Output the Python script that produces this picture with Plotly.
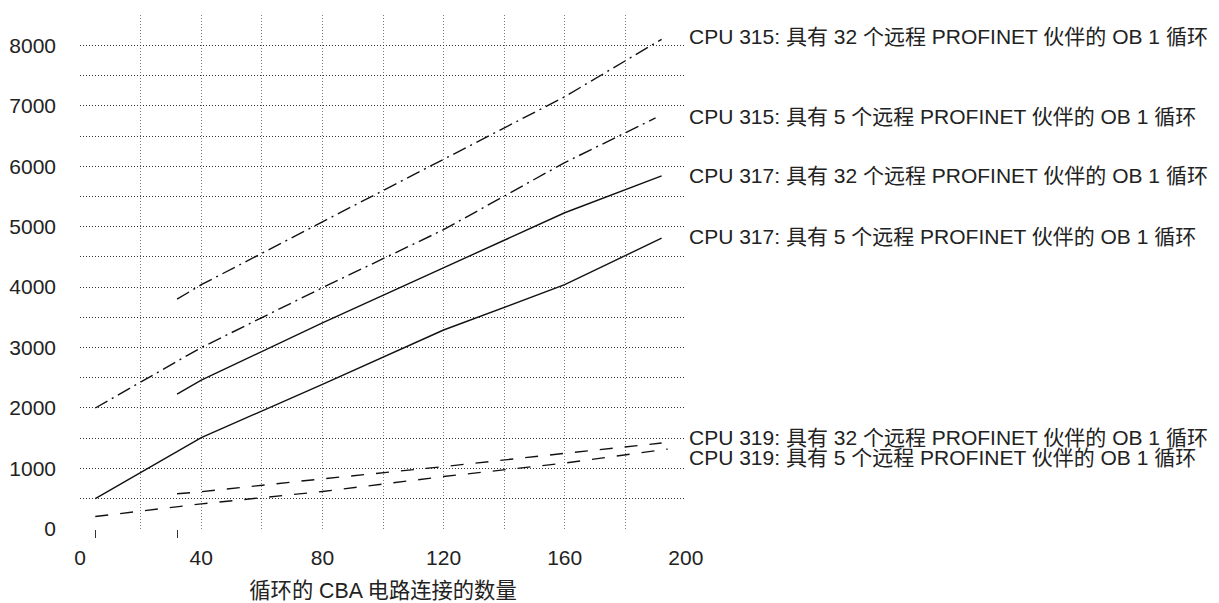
import plotly.graph_objects as go

# ---- data ----
x_315_32 = [32, 40, 80, 120, 160, 192]
y_315_32 = [3800, 4040, 5080, 6110, 7150, 8100]

x_315_5 = [5, 40, 80, 120, 160, 190]
y_315_5 = [2000, 3000, 3990, 4950, 6060, 6800]

x_317_32 = [32, 40, 80, 120, 160, 192]
y_317_32 = [2230, 2460, 3410, 4320, 5230, 5840]

x_317_5 = [5, 40, 80, 120, 160, 192]
y_317_5 = [500, 1510, 2390, 3290, 4040, 4810]

x_319_32 = [32, 40, 80, 120, 160, 192]
y_319_32 = [580, 615, 828, 1030, 1250, 1420]

x_319_5 = [5, 40, 80, 120, 160, 194]
y_319_5 = [204, 414, 618, 866, 1088, 1320]

labels = [
    "CPU 315: 具有 32 个远程 PROFINET 伙伴的 OB 1 循环",
    "CPU 315: 具有 5 个远程 PROFINET 伙伴的 OB 1 循环",
    "CPU 317: 具有 32 个远程 PROFINET 伙伴的 OB 1 循环",
    "CPU 317: 具有 5 个远程 PROFINET 伙伴的 OB 1 循环",
    "CPU 319: 具有 32 个远程 PROFINET 伙伴的 OB 1 循环",
    "CPU 319: 具有 5 个远程 PROFINET 伙伴的 OB 1 循环",
]
start_marks = [5, 32]
x_tick_vals = list(range(0, 201, 20))
x_tick_text = [str(v) if v % 40 == 0 else "" for v in x_tick_vals]
y_tick_vals = list(range(0, 8501, 500))
y_tick_text = [str(v) if v % 1000 == 0 else "" for v in y_tick_vals]
x_title = "循环的 CBA 电路连接的数量"

# ---- styles / layout ----
FONT = "Liberation Sans, Arial, Noto Sans CJK SC, sans-serif"
DASHDOT = "14px,5px,2px,5px"
DASH = "13px,12px"
GRIDDOT = "1px,2px"
label_y = [8150, 6820, 5850, 4840, 1520, 1175]

series = [
    (x_315_32, y_315_32, DASHDOT),
    (x_315_5, y_315_5, DASHDOT),
    (x_317_32, y_317_32, "solid"),
    (x_317_5, y_317_5, "solid"),
    (x_319_32, y_319_32, DASH),
    (x_319_5, y_319_5, DASH),
]

fig = go.Figure()
for xs, ys, dash in series:
    fig.add_trace(go.Scatter(x=xs, y=ys, mode="lines",
                             line=dict(color="#111111", width=1.4, dash=dash),
                             showlegend=False, hoverinfo="skip"))

# invisible trace on overlay axis for start markers
fig.add_trace(go.Scatter(x=start_marks, y=[None] * len(start_marks), xaxis="x2",
                         mode="markers", showlegend=False, hoverinfo="skip"))

for txt, yv in zip(labels, label_y):
    fig.add_annotation(x=200, y=yv, xref="x", yref="y", text=txt, showarrow=False,
                       xanchor="left", yanchor="middle", xshift=1,
                       font=dict(family=FONT, size=21, color="#222222"))

fig.update_layout(
    width=1211, height=595,
    margin=dict(l=72, r=533, t=7, b=74),
    paper_bgcolor="white", plot_bgcolor="white",
    font=dict(family=FONT, size=21, color="#222222"),
    xaxis=dict(range=[-0.05, 200.05], tickvals=x_tick_vals, ticktext=x_tick_text,
               showgrid=True, gridcolor="#7a7a7a", griddash=GRIDDOT, gridwidth=1,
               zeroline=False, showline=False, ticks="", ticklabelstandoff=14,
               automargin=False,
               title=dict(text=x_title, standoff=20, font=dict(size=21.3))),
    xaxis2=dict(range=[-0.05, 200.05], overlaying="x", side="bottom", tickvals=start_marks,
                showticklabels=False, ticks="outside", ticklen=8, tickcolor="#333333",
                tickwidth=1, showgrid=False, zeroline=False, showline=False,
                automargin=False),
    yaxis=dict(range=[-2, 8502], tickvals=y_tick_vals, ticktext=y_tick_text,
               showgrid=True, gridcolor="#333333", griddash=GRIDDOT, gridwidth=1,
               zeroline=False, showline=False, ticks="", ticklabelstandoff=23,
               automargin=False),
)

fig.write_html("out.html")
